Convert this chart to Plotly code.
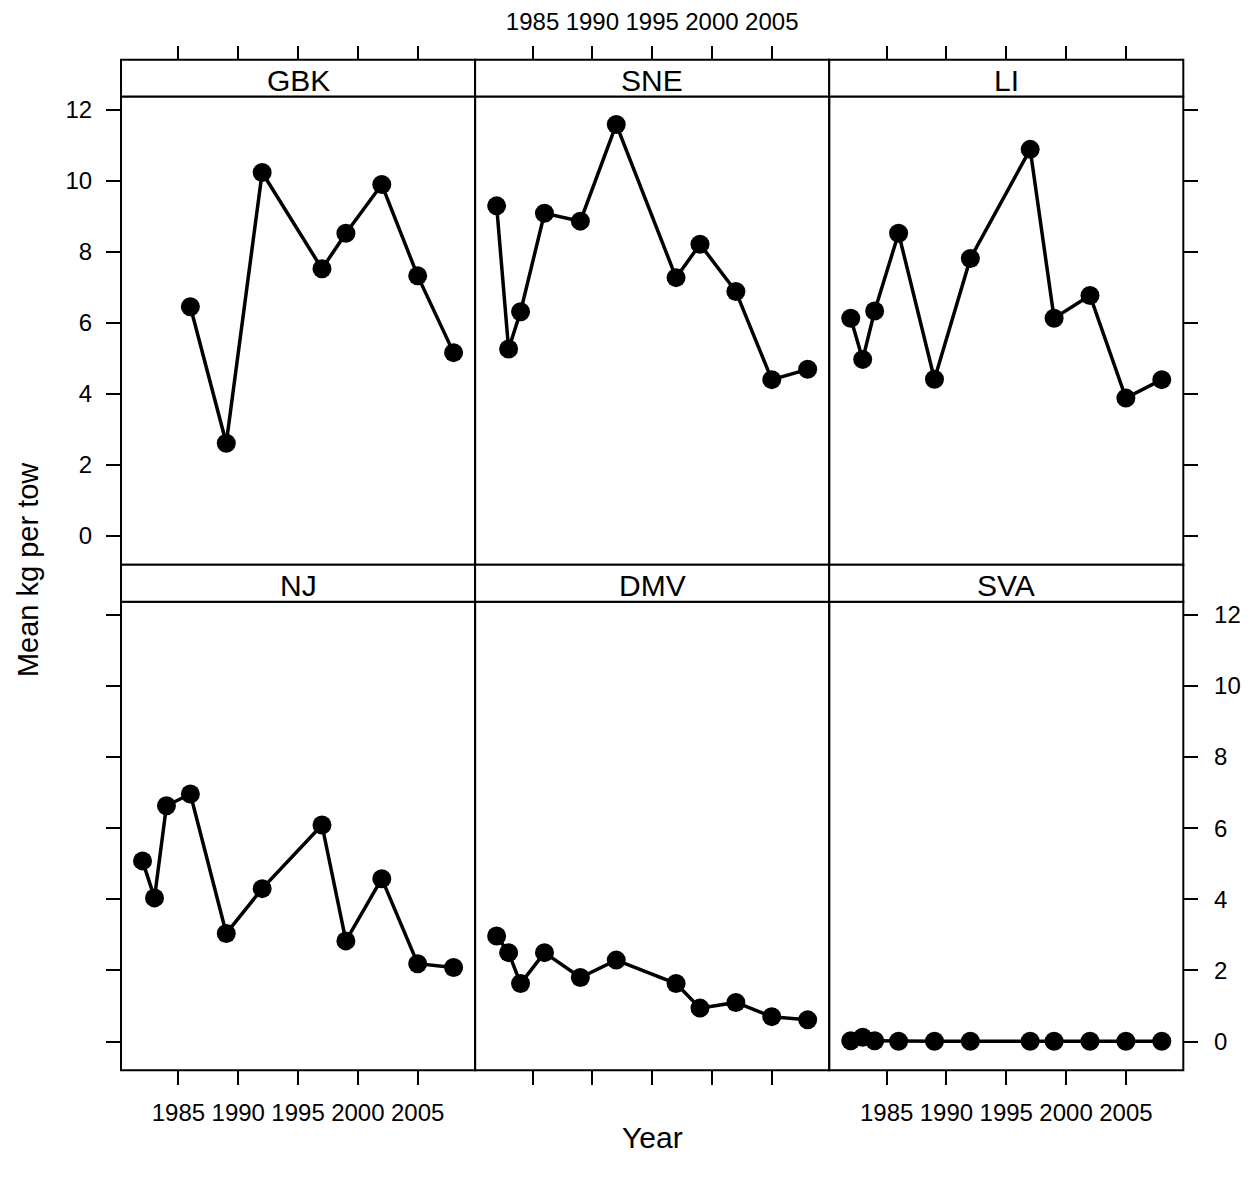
import plotly.graph_objects as go

# ---- data ----
years = [1982, 1983, 1984, 1986, 1989, 1992, 1997, 1999, 2002, 2005, 2008]
regions = ["GBK", "SNE", "LI", "NJ", "DMV", "SVA"]
gbk = [None, None, None, 6.45, 2.61, 10.23, 7.52, 8.52, 9.89, 7.32, 5.16]
sne = [9.29, 5.26, 6.31, 9.08, 8.86, 11.58, 7.27, 8.21, 6.88, 4.40, 4.69]
li = [6.13, 4.97, 6.33, 8.52, 4.41, 7.81, 10.88, 6.13, 6.77, 3.88, 4.40]
nj = [5.08, 4.04, 6.63, 6.96, 3.04, 4.30, 6.09, 2.83, 4.58, 2.19, 2.08]
dmv = [2.97, 2.50, 1.63, 2.50, 1.80, 2.29, 1.63, 0.94, 1.10, 0.70, 0.61]
sva = [0.02, 0.12, 0.02, 0.01, 0.01, 0.01, 0.01, 0.01, 0.01, 0.01, 0.01]
series = [gbk, sne, li, nj, dmv, sva]
x_ticks = [1985, 1990, 1995, 2000, 2005]
y_ticks = [0, 2, 4, 6, 8, 10, 12]
x_title = "Year"
y_title = "Mean kg per tow"

# ---- layout geometry (target-page pixels) ----
OFF = 8                      # page body margin
FW, FH = 1253 - 2 * OFF, 1179 - 2 * OFF
XB = [121, 475.1, 829.2, 1183.3]
ROWS = [(92.7, 562.7), (599.7, 1070)]
STRIPS = [(56, 92.7), (562.7, 599.7)]
FONT = "Liberation Sans, Arial, sans-serif"
TICK_SIZE = 24

def fx(p):
    return (p - OFF) / FW

def fy(p):
    return 1 - (p - OFF) / FH

fig = go.Figure()
layout = dict(
    width=FW, height=FH, margin=dict(l=0, r=0, t=0, b=0),
    plot_bgcolor="white", paper_bgcolor="white",
    showlegend=False, font=dict(family=FONT, color="black", size=TICK_SIZE),
)
shapes = []
annotations = []
tick_common = dict(ticks="outside", ticklen=14, tickwidth=2, tickcolor="black")

for i, (name, vals) in enumerate(zip(regions, series)):
    row, col = divmod(i, 3)
    sfx = "" if i == 0 else str(i + 1)
    fig.add_trace(go.Scatter(
        x=years, y=vals, mode="lines+markers",
        line=dict(color="black", width=3.5),
        marker=dict(symbol="circle", size=19, color="black"),
        xaxis="x" + sfx, yaxis="y" + sfx, cliponaxis=False,
    ))
    top, bot = ROWS[row]
    xa = dict(
        domain=[fx(XB[col]), fx(XB[col + 1])], range=[1980.2, 2009.8],
        tickmode="array", tickvals=x_ticks, ticktext=[str(v) for v in x_ticks],
        showline=False, showgrid=False, zeroline=False,
        tickfont=dict(size=TICK_SIZE, family=FONT, color="black"),
        **tick_common,
    )
    if row == 0:
        xa.update(anchor="free", position=fy(STRIPS[0][0]), side="top",
                  showticklabels=(col == 1), ticklabelstandoff=6)
    else:
        xa.update(anchor="y" + sfx, side="bottom",
                  showticklabels=(col in (0, 2)), ticklabelstandoff=7)
    ya = dict(
        domain=[fy(bot), fy(top)], range=[-0.81, 12.37],
        anchor="x" + sfx, tickmode="array", tickvals=y_ticks,
        ticktext=[str(v) for v in y_ticks],
        showline=False, showgrid=False, zeroline=False,
        tickfont=dict(size=TICK_SIZE, family=FONT, color="black"),
    )
    if col == 0:
        ya.update(side="left", showticklabels=(row == 0), ticklabelstandoff=9, **tick_common)
    elif col == 2:
        ya.update(side="right", showticklabels=(row == 1), ticklabelstandoff=11, **tick_common)
    else:
        ya.update(ticks="", showticklabels=False)
    layout["xaxis" + sfx] = xa
    layout["yaxis" + sfx] = ya

    # panel box
    shapes.append(dict(type="rect", xref="paper", yref="paper",
                       x0=fx(XB[col]), x1=fx(XB[col + 1]), y0=fy(bot), y1=fy(top),
                       line=dict(color="black", width=2), layer="above"))
    # strip
    s0, s1 = STRIPS[row]
    shapes.append(dict(type="rect", xref="paper", yref="paper",
                       x0=fx(XB[col]), x1=fx(XB[col + 1]), y0=fy(s1), y1=fy(s0),
                       line=dict(color="black", width=2), fillcolor="white", layer="above"))
    annotations.append(dict(text=name, xref="paper", yref="paper",
                            x=fx((XB[col] + XB[col + 1]) / 2), y=fy((s0 + s1) / 2 + 2),
                            xanchor="center", yanchor="middle", showarrow=False,
                            font=dict(size=30, family=FONT, color="black")))

annotations.append(dict(text=x_title, xref="paper", yref="paper",
                        x=fx((XB[0] + XB[3]) / 2), y=fy(1137), xanchor="center",
                        yanchor="middle", showarrow=False,
                        font=dict(size=30, family=FONT, color="black")))
annotations.append(dict(text=y_title, xref="paper", yref="paper",
                        x=fx(28), y=fy(568), xanchor="center", yanchor="middle",
                        textangle=-90, showarrow=False,
                        font=dict(size=29, family=FONT, color="black")))

layout["shapes"] = shapes
layout["annotations"] = annotations
fig.update_layout(**layout)
fig.write_html("out.html")
